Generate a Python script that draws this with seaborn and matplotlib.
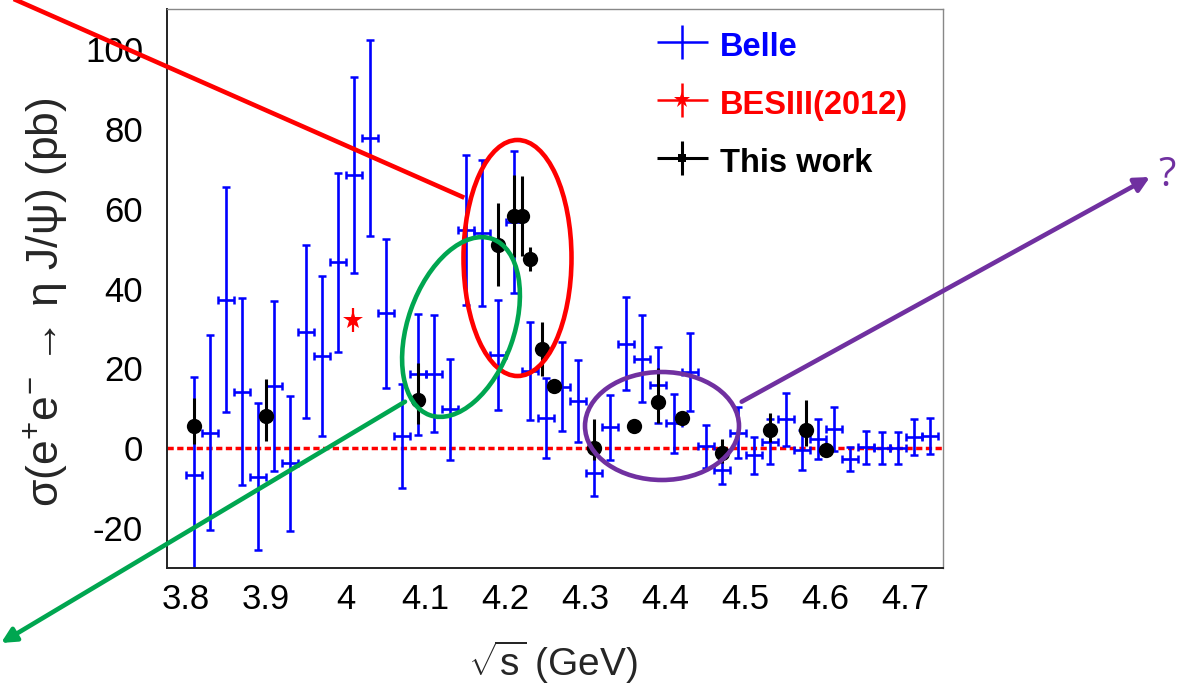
import numpy as np
import matplotlib
matplotlib.use("Agg")
import matplotlib.pyplot as plt
import seaborn as sns
from matplotlib.patches import Ellipse, FancyArrowPatch
from matplotlib.lines import Line2D
from matplotlib.legend_handler import HandlerErrorbar
from matplotlib.container import ErrorbarContainer
from matplotlib.ticker import MultipleLocator, FuncFormatter

# ---- Belle ISR measurement (20 MeV bins) ----
belle_E = [3.81, 3.83, 3.85, 3.87, 3.89, 3.91, 3.93, 3.95, 3.97, 3.99,
           4.01, 4.03, 4.05, 4.07, 4.09, 4.11, 4.13, 4.15, 4.17, 4.19,
           4.21, 4.23, 4.25, 4.27, 4.29, 4.31, 4.33, 4.35, 4.37, 4.39,
           4.41, 4.43, 4.45, 4.47, 4.49, 4.51, 4.53, 4.55, 4.57, 4.59,
           4.61, 4.63, 4.65, 4.67, 4.69, 4.71, 4.73]
belle_sigma = [-6.6, 3.9, 37.2, 14.2, -7.1, 15.5, -3.8, 29.2, 23.1, 46.6,
               68.5, 77.7, 33.8, 3.0, 18.5, 18.7, 9.7, 54.7, 54.0, 23.3,
               56.6, 19.3, 7.5, 15.4, 11.8, -6.2, 5.2, 26.2, 22.4, 15.8,
               6.2, 19.1, 0.5, -5.4, 3.9, -1.8, 1.6, 7.2, -0.5, 2.2,
               4.9, -2.8, 0.2, 0.0, 0.1, 2.8, 3.1]
belle_err = [24.5, 24.5, 28.2, 23.5, 18.4, 21.3, 17.0, 21.6, 20.0, 22.4,
             24.5, 24.5, 18.6, 13.0, 15.2, 14.7, 12.7, 18.8, 18.3, 13.7,
             17.8, 12.3, 10.0, 11.2, 10.3, 5.7, 8.2, 11.7, 10.9, 9.6,
             7.4, 9.8, 5.4, 3.6, 6.4, 4.6, 5.6, 6.6, 5.0, 5.0,
             5.5, 3.0, 4.1, 4.0, 4.0, 4.6, 4.5]
belle_bin_half = 0.01

# ---- BESIII 2012 ----
bes12_E = [4.009]
bes12_sigma = [32.1]
bes12_err = [3.1]

# ---- This work ----
this_E = [3.810, 3.900, 4.090, 4.190, 4.210, 4.220, 4.230, 4.245, 4.260,
          4.310, 4.360, 4.390, 4.420, 4.470, 4.530, 4.575, 4.600]
this_sigma = [5.5, 8.1, 12.2, 51.0, 58.1, 58.1, 47.4, 24.9, 15.6,
              0.0, 5.6, 11.6, 7.6, -1.2, 4.5, 4.5, -0.5]
this_err_up = [7.1, 9.2, 9.1, 10.3, 10.3, 10.0, 2.9, 6.8, 1.8,
               7.4, 1.2, 8.6, 1.3, 3.4, 4.2, 7.5, 1.2]
this_err_dn = [4.5, 6.3, 6.2, 10.3, 10.3, 10.0, 2.9, 6.8, 1.8,
               3.0, 1.2, 5.4, 1.3, 2.5, 2.9, 4.0, 1.2]

legend_labels = ["Belle", "BESIII(2012)", "This work"]
x_ticks = [3.8, 3.9, 4.0, 4.1, 4.2, 4.3, 4.4, 4.5, 4.6, 4.7]
y_ticks = [-20, 0, 20, 40, 60, 80, 100]

sns.set_theme(style="white")
plt.rcParams["font.family"] = ["Liberation Sans", "DejaVu Sans"]
plt.rcParams["mathtext.fontset"] = "custom"
plt.rcParams["mathtext.rm"] = "Liberation Sans"
plt.rcParams["mathtext.it"] = "Liberation Sans:italic"
plt.rcParams["mathtext.bf"] = "Liberation Sans:bold"

W, H = 1179, 685
fig = plt.figure(figsize=(W / 100, H / 100), dpi=100)
fig.patch.set_facecolor("white")
ax = fig.add_axes([166.7 / W, 1 - 568 / H, (943 - 166.7) / W, (568 - 9) / H])
ax.set_facecolor("white")

BLUE, RED, BLACK = "#0000ff", "#ff0000", "#000000"

# zero line
ax.axhline(0, color=RED, lw=2.5, ls=(0, (1.8, 1.0)), zorder=1)

ax.errorbar(belle_E, belle_sigma, yerr=belle_err, xerr=belle_bin_half,
            fmt="none", ecolor=BLUE, elinewidth=1.9, capsize=2.8,
            capthick=1.8, zorder=2)
ax.errorbar(bes12_E, bes12_sigma, yerr=bes12_err, fmt="*", color=RED,
            ms=15, mew=0, elinewidth=1.6, capsize=2.6, capthick=1.6,
            zorder=3)
ax.errorbar(this_E, this_sigma, yerr=[this_err_dn, this_err_up], fmt="o",
            color=BLACK, ms=11, mew=0, elinewidth=2.2, capsize=2.8,
            capthick=2.0, zorder=4)

# legend keys (cross-style entries, no caps)
k_belle = ax.errorbar([np.nan], [np.nan], xerr=[1], yerr=[1], fmt="none",
                      ecolor=BLUE, elinewidth=1.8)
k_bes12 = ax.errorbar([np.nan], [np.nan], xerr=[1], yerr=[1], fmt="*",
                      color=RED, ms=12, mew=0, elinewidth=1.8)
k_this = ax.errorbar([np.nan], [np.nan], xerr=[1], yerr=[1], fmt="s",
                     color=BLACK, ms=6, mew=0, elinewidth=2.2)

ax.set_xlim(3.7765, 4.7466)
ax.set_ylim(-30, 110)
ax.set_xticks(x_ticks)
ax.set_yticks(y_ticks)
ax.xaxis.set_minor_locator(MultipleLocator(0.02))
ax.yaxis.set_minor_locator(MultipleLocator(5))
fmt = FuncFormatter(lambda v, p: f"{v:g}")
ax.xaxis.set_major_formatter(fmt)
ax.yaxis.set_major_formatter(fmt)
ax.tick_params(axis="both", which="both", direction="in", color="#333333",
               width=1.0, labelsize=25, labelcolor="black")
ax.tick_params(axis="y", which="major", length=16, pad=17)
ax.tick_params(axis="y", which="minor", length=8)
ax.tick_params(axis="x", which="major", length=13, pad=11)
ax.tick_params(axis="x", which="minor", length=6.5)
ax.tick_params(top=False, right=False, which="both")
for side in ["left", "bottom"]:
    ax.spines[side].set_color("#222222")
    ax.spines[side].set_linewidth(1.4)
for side in ["top", "right"]:
    ax.spines[side].set_color("#888888")
    ax.spines[side].set_linewidth(1.0)
ax.grid(False)

# axis titles
fig.text(553 / W, 1 - 662 / H, r"$\sqrt{\mathrm{s}}$ (GeV)", ha="center",
         va="center", fontsize=28)
fig.text(45 / W, 1 - 302 / H, r"σ(e$^{+}$e$^{-}$ → η J/ψ) (pb)",
         rotation=90, ha="center", va="center", fontsize=32)

# legend
ax.legend([k_belle, k_bes12, k_this], legend_labels,
          handler_map={ErrorbarContainer: HandlerErrorbar(xerr_size=0.78, yerr_size=0.52)},
          loc="upper left", bbox_to_anchor=(656 / W, 1 - 28 / H),
          bbox_transform=fig.transFigure, frameon=False,
          prop={"weight": "bold", "size": 23.5, "family": "Liberation Sans"},
          labelcolor=[BLUE, RED, BLACK], handlelength=1.6,
          handleheight=1.2, handletextpad=0.35, labelspacing=0.72,
          borderpad=0, borderaxespad=0)

# overlay markings, in pixel units of the canvas (origin top-left)
def pix(x, y):
    return (x / 100, (H - y) / 100)

tr = fig.dpi_scale_trans
LW = 3.3

p0, p1 = pix(-6, -9.7), pix(464.3, 197.7)
fig.add_artist(Line2D([p0[0], p1[0]], [p0[1], p1[1]], transform=tr,
                      color=RED, lw=LW, solid_capstyle="butt"))
fig.add_artist(Ellipse(pix(517.5, 258), 108 / 100, 236 / 100, angle=0,
                       transform=tr, fill=False, ec=RED, lw=LW))

GREEN = "#00a650"
fig.add_artist(Ellipse(pix(461, 327), 187 / 100, 106 / 100, angle=70.5,
                       transform=tr, fill=False, ec=GREEN, lw=LW))
fig.add_artist(FancyArrowPatch(pix(405, 401.7), pix(1, 643), transform=tr,
                               arrowstyle="-|>", mutation_scale=22,
                               color=GREEN, lw=LW, shrinkA=0, shrinkB=0))

PURPLE = "#7030a0"
fig.add_artist(Ellipse(pix(662, 426), 154 / 100, 108 / 100, angle=0,
                       transform=tr, fill=False, ec=PURPLE, lw=LW))
fig.add_artist(FancyArrowPatch(pix(741.7, 401.7), pix(1150, 177), transform=tr,
                               arrowstyle="-|>", mutation_scale=22,
                               color=PURPLE, lw=LW, shrinkA=0, shrinkB=0))
fig.text(1167 / W, 1 - 176 / H, "?", color=PURPLE, fontsize=29,
         ha="center", va="center", family=["Open Sans", "DejaVu Sans"])

fig.savefig("out.png", dpi=100, facecolor="white")
